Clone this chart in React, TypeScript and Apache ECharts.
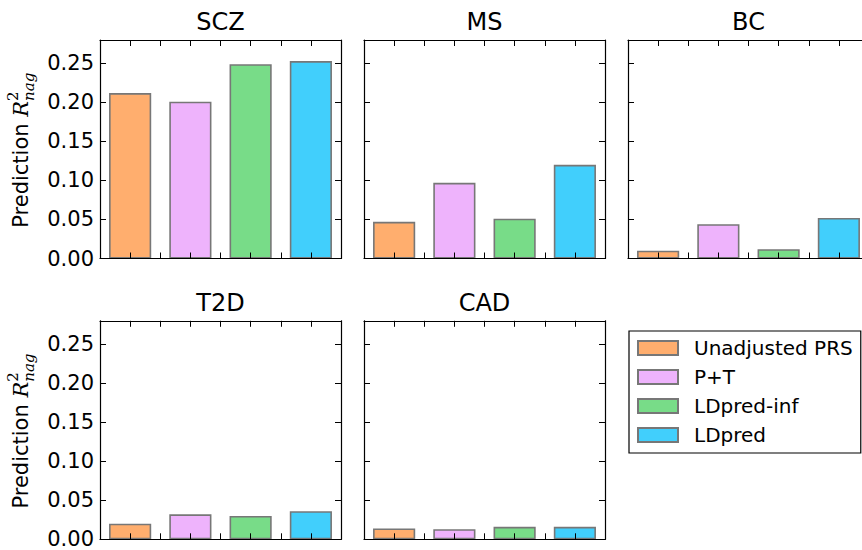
import React, { useEffect, useRef } from 'react';
import * as echarts from 'echarts';

// ---- data ----
const methods = ['Unadjusted PRS', 'P+T', 'LDpred-inf', 'LDpred'];
const panelNames = ['SCZ', 'MS', 'BC', 'T2D', 'CAD'];
const sczValues = [0.212, 0.201, 0.249, 0.253];
const msValues = [0.047, 0.097, 0.051, 0.120];
const bcValues = [0.010, 0.044, 0.012, 0.052];
const t2dValues = [0.020, 0.032, 0.030, 0.036];
const cadValues = [0.014, 0.013, 0.016, 0.016];
const yMin = 0;
const yMax = 0.28;
const yStep = 0.05;
const xMin = -0.5;
const xMax = 3.5;
const xStep = 0.5;

const panelValues = [sczValues, msValues, bcValues, t2dValues, cadValues];
const methodColors = ['#FFAE6E', '#EEB3FC', '#78DC88', '#41CFFC'];

// ---- layout ----
const CW = 862;
const panelLeft = [100, 364, 628, 100, 364];
const panelTop = [40, 40, 40, 320.8, 320.8];
const PW = 241;
const PH = 218.5;
const labelPanels = [0, 3];
const FONT = '"DejaVu Sans"';

function measure(text: string, font: string): number {
  const c = document.createElement('canvas').getContext('2d');
  if (!c) return text.length * 10;
  c.font = font;
  return c.measureText(text).width;
}

function txt(x: number, y: number, text: string, fontSize: number, fontFamily: string, fontStyle: string, align: string) {
  return {
    type: 'text',
    x,
    y,
    silent: true,
    style: {
      text,
      fontSize,
      fontFamily,
      fontStyle,
      fill: '#000',
      align,
      verticalAlign: 'middle',
      textAlign: align,
      textVerticalAlign: 'middle',
    },
  };
}

function yLabel(cx: number, cy: number) {
  const fs1 = 21, fsR = 21, fsS = 15;
  const serif = '"DejaVu Serif"';
  const w1 = measure('Prediction ', `${fs1}px "DejaVu Sans"`);
  const wR = measure('R', `italic ${fsR}px "DejaVu Serif"`);
  const wSup = measure('2', `${fsS}px "DejaVu Serif"`);
  const wSub = measure('nag', `italic ${fsS}px "DejaVu Serif"`);
  const W = w1 + wR + Math.max(wSup, wSub);
  const x0 = -W / 2;
  return {
    type: 'group',
    x: cx,
    y: cy,
    rotation: Math.PI / 2,
    children: [
      txt(x0, -0.35 * fs1, 'Prediction', fs1, FONT, 'normal', 'left'),
      txt(x0 + w1, -0.35 * fsR, 'R', fsR, serif, 'italic', 'left'),
      txt(x0 + w1 + wR, -10 - 0.35 * fsS, '2', fsS, serif, 'normal', 'left'),
      txt(x0 + w1 + wR, 6 - 0.35 * fsS, 'nag', fsS, serif, 'italic', 'left'),
    ],
  };
}

export default function App() {
  const ref = useRef<HTMLDivElement>(null);

  useEffect(() => {
    if (!ref.current) return;
    const chart = echarts.init(ref.current, undefined, { renderer: 'svg' });

    const grid: any[] = [];
    const xAxis: any[] = [];
    const yAxis: any[] = [];
    const series: any[] = [];
    const graphic: any[] = [];

    const lineStyle = { color: '#000', width: 1.2 };
    const tickStyle = { color: '#000', width: 1 };

    panelNames.forEach((name, i) => {
      grid.push({
        left: panelLeft[i],
        top: panelTop[i],
        width: PW,
        height: PH,
        containLabel: false,
        outerBoundsMode: 'none',
      });
      ['bottom', 'top'].forEach((pos) => {
        xAxis.push({
          type: 'value',
          gridIndex: i,
          position: pos,
          min: xMin,
          max: xMax,
          interval: xStep,
          axisLine: { show: true, onZero: false, lineStyle },
          axisTick: { show: true, inside: true, length: 6, lineStyle: tickStyle },
          axisLabel: { show: false },
          splitLine: { show: false },
          z: 5,
        });
      });
      ['left', 'right'].forEach((pos) => {
        const showLabel = pos === 'left' && labelPanels.includes(i);
        yAxis.push({
          type: 'value',
          gridIndex: i,
          position: pos,
          min: yMin,
          max: yMax,
          interval: yStep,
          axisLine: { show: true, onZero: false, lineStyle },
          axisTick: { show: true, inside: true, length: 6, lineStyle: tickStyle },
          axisLabel: {
            show: showLabel,
            showMaxLabel: false,
            margin: 6,
            fontSize: 21,
            fontFamily: FONT,
            color: '#000',
            formatter: (v: number) => v.toFixed(2),
          },
          splitLine: { show: false },
          z: 5,
        });
      });
      methods.forEach((m, j) => {
        series.push({
          type: 'bar',
          name: m,
          xAxisIndex: 2 * i,
          yAxisIndex: 2 * i,
          data: [[j, panelValues[i][j]]],
          barWidth: 0.7 * PW / (xMax - xMin),
          barGap: '-100%',
          itemStyle: { color: methodColors[j], borderColor: '#777777', borderWidth: 1.6 },
          z: 2,
        });
      });
      // title
      const cx = panelLeft[i] + PW / 2;
      graphic.push(txt(cx, panelTop[i] - 9.3 - 0.346 * 24, name, 24, FONT, 'normal', 'center'));
      if (labelPanels.includes(i)) {
        graphic.push(yLabel(28, panelTop[i] + PH / 2 + 1));
      }
    });

    chart.setOption({
      animation: false,
      grid,
      xAxis,
      yAxis,
      series,
      graphic,
      legend: {
        orient: 'vertical',
        left: 629,
        top: 331,
        data: methods,
        icon: 'rect',
        itemWidth: 40,
        itemHeight: 14,
        itemGap: 9,
        padding: [7, 8, 8, 8],
        borderColor: '#000',
        borderWidth: 1.2,
        borderRadius: 0,
        selectedMode: false,
        textStyle: { fontSize: 20, fontFamily: FONT, color: '#000', padding: [0, 0, 0, 11] },
      },
    });

    return () => chart.dispose();
  }, []);

  return (
    <div
      ref={ref}
      style={{ position: 'fixed', left: 0, top: 0, width: CW, height: 550, background: '#fff' }}
    />
  );
}
